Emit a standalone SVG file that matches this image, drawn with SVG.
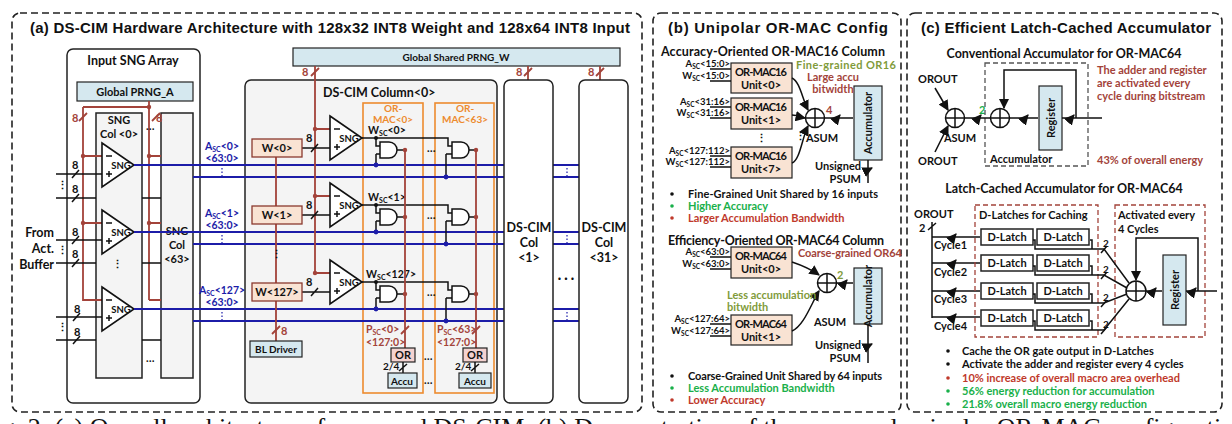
<svg xmlns="http://www.w3.org/2000/svg" width="1232" height="424" viewBox="0 0 1232 424">
<style>
text{font-family:Lato,"Open Sans",sans-serif;font-weight:700;font-size:11px;fill:#111}
.t{font-family:"Liberation Sans",Arial,sans-serif;font-size:15px}
.h{font-size:12.5px}
.c{text-anchor:middle}
.r{text-anchor:end}
.s{font-size:9.5px}
.pan{fill:#fff;stroke:#222;stroke-width:1.6;stroke-dasharray:7 4}
.box{fill:#f4f4f4;stroke:#222;stroke-width:1.5}
.wb{fill:#fff;stroke:#222;stroke-width:1.5}
.blu{fill:#d5e8ef;stroke:#222;stroke-width:1.2}
.pch{fill:#f9e3d3;stroke:#8b3a2f;stroke-width:1.3}
.pb{fill:#f9e3d3;stroke:#222;stroke-width:1.2}
.k{stroke:#111;stroke-width:1.5;fill:none}
.rd{stroke:#a3433a;stroke-width:1.8;fill:none}
.bl{stroke:#1c1ca8;stroke-width:2.2;fill:none}
.or{fill:none;stroke:#ed8b2f;stroke-width:1.6}
.g{fill:#fff;stroke:#111;stroke-width:1.5}
.tri{fill:#fff;stroke:#111;stroke-width:1.6}
.red{fill:#c0392b}.brn{fill:#a3433a}.grn{fill:#19b04a}.olv{fill:#7f9b3a}.blt{fill:#1c1ca8}.org{fill:#ed8b2f}
.dd{stroke:#1c1ca8;stroke-width:1.2;stroke-dasharray:1.5 2}
.rdash{fill:none;stroke:#a3433a;stroke-width:1.3;stroke-dasharray:5 3}
.gdash{fill:none;stroke:#555;stroke-width:1.3;stroke-dasharray:5 3}
</style>
<defs>
<marker id="ar" viewBox="0 0 10 10" refX="9" refY="5" markerWidth="7" markerHeight="7" orient="auto"><path d="M0 0L10 5L0 10z" fill="#111"/></marker>
<g id="sngA"><path class="tri" d="M0 0L32 22L0 44z"/><path class="k" d="M4 13h6M4 31h6M7 28v6"/><text x="19" y="26" class="c" style="font-size:9.5px">SNG</text></g>
<g id="and"><path class="g" d="M0 0h9a8 8 0 0 1 0 16h-9z"/></g>
<g id="dl"><rect width="52" height="16" class="wb" stroke-width="1.2"/><text x="26" y="12" class="c">D-Latch</text></g>
</defs>
<rect width="1232" height="424" fill="#fff"/>
<text x="-20" y="436" style="font-family:'Liberation Serif',serif;font-weight:400;font-size:26px">Fig. 2: (a) Overall architecture of proposed DS-CIM. (b) Demonstration of the proposed unipolar OR-MAC configurations with the accuracy</text>

<!-- Panel a -->
<g id="panelA">
<rect x="12" y="13" width="630" height="399" rx="8" class="pan"/>
<text x="30" y="33" class="t" textLength="600">(a) DS-CIM Hardware Architecture with 128x32 INT8 Weight and 128x64 INT8 Input</text>
</g>
<g id="inputSNG">
<rect x="67" y="49" width="133" height="354" rx="6" class="wb"/>
<text x="133" y="65" class="c h">Input SNG Array</text>
<rect x="77" y="82" width="116" height="19" class="blu"/>
<text x="135" y="96" class="c">Global PRNG_A</text>
<rect x="96" y="113" width="46" height="265" class="box"/>
<text x="119" y="124" class="c">SNG</text><text x="119" y="138" class="c">Col &lt;0&gt;</text>
<rect x="161" y="113" width="32" height="265" class="box"/>
<text x="177" y="235" class="c">SNG</text><text x="177" y="249" class="c">Col</text><text x="177" y="263" class="c">&lt;63&gt;</text>
<path class="rd" d="M149 101V300M83 107H149V300M83 107V300H108M83 156H108M83 223H108M149 156H161M149 223H161M149 300H161"/>
<path class="rd" d="M79 121l8-8M152 121l8-8"/>
<text x="72" y="122" class="brn">8</text><text x="156" y="122" class="brn">8</text>
<circle cx="149" cy="107" r="2.2" fill="#a3433a"/><circle cx="83" cy="156" r="2.2" fill="#a3433a"/><circle cx="83" cy="223" r="2.2" fill="#a3433a"/><circle cx="149" cy="156" r="2.2" fill="#a3433a"/><circle cx="149" cy="223" r="2.2" fill="#a3433a"/>
<text x="146" y="130">…</text><text x="146" y="362">…</text>
<use href="#sngA" x="102" y="143"/><use href="#sngA" x="102" y="210"/><use href="#sngA" x="102" y="287"/>
<text x="117" y="268" class="c">⋮</text>
<path class="k" d="M142 198H161M142 263H161M142 340H161M142 165H161M142 232H161M142 309H161"/>
<path class="k" d="M56 174H102M56 198H96M56 240H102M56 263H96M56 317H102M56 340H96"/>
<path class="k" d="M72 178l7-8M72 202l7-8M72 244l7-8M72 267l7-8M73 321l7-8M73 344l7-8"/>
<text x="72" y="169">8</text><text x="72" y="193">8</text><text x="72" y="236">8</text><text x="72" y="258">8</text><text x="74" y="313">8</text><text x="74" y="336">8</text>
<text x="62" y="189" class="c">⋮</text><text x="62" y="254" class="c">⋮</text><text x="62" y="331" class="c">⋮</text>
<text x="54" y="237" class="r h">From</text><text x="54" y="253" class="r h">Act.</text><text x="54" y="269" class="r h">Buffer</text>
</g>
<g id="col0">
<rect x="245" y="80" width="252" height="323" rx="6" class="box"/>
<text x="323" y="97" class="h">DS-CIM Column&lt;0&gt;</text>
<rect x="363" y="103" width="60" height="290" class="or"/>
<rect x="435" y="103" width="59" height="290" class="or"/>
<text x="393" y="112" class="c org" style="font-size:10px">OR-</text><text x="393" y="123" class="c org" style="font-size:10px">MAC&lt;0&gt;</text>
<text x="465" y="112" class="c org" style="font-size:10px">OR-</text><text x="465" y="123" class="c org" style="font-size:10px">MAC&lt;63&gt;</text>
</g>
<g id="prngW"><rect x="293" y="48" width="327" height="18" class="blu"/><text x="456" y="61" class="c" style="font-size:10px">Global Shared PRNG_W</text></g>
<g id="connectors">
<path class="bl" d="M134 165H579M193 177H579M134 232H579M193 244H579M134 309H579M193 321H579"/>
<path class="dd" d="M222 168V176M222 235V243M222 312V320"/>
<text x="222" y="150" class="c blt" style="font-size:10.5px">A<tspan font-size="7" dy="2">SC</tspan><tspan dy="-2">&lt;0&gt;</tspan></text><text x="222" y="162" class="c blt" style="font-size:10.5px">&lt;63:0&gt;</text>
<text x="222" y="217" class="c blt" style="font-size:10.5px">A<tspan font-size="7" dy="2">SC</tspan><tspan dy="-2">&lt;1&gt;</tspan></text><text x="222" y="229" class="c blt" style="font-size:10.5px">&lt;63:0&gt;</text>
<text x="222" y="294" class="c blt" style="font-size:10.5px">A<tspan font-size="7" dy="2">SC</tspan><tspan dy="-2">&lt;127&gt;</tspan></text><text x="222" y="306" class="c blt" style="font-size:10.5px">&lt;63:0&gt;</text>
<path class="rd" d="M315 66V273M315 129H330M315 196H330M315 273H330M276 157V341M528 66V80M600 66V80"/>
<path class="rd" d="M311 76l8-8M272 334l8-8M524 76l8-8M596 76l8-8"/>
<text x="302" y="76" class="brn">8</text><text x="281" y="335" class="brn">8</text><text x="516" y="76" class="brn">8</text><text x="588" y="76" class="brn">8</text>
<circle cx="315" cy="129" r="2.2" fill="#a3433a"/><circle cx="315" cy="196" r="2.2" fill="#a3433a"/><circle cx="315" cy="273" r="2.2" fill="#a3433a"/>
<path class="k" d="M302 148H330M302 215H330M302 292H330M311 152l7-8M311 219l7-8M311 296l7-8"/>
<text x="306" y="142">8</text><text x="306" y="209">8</text><text x="306" y="286">8</text>
<text x="276" y="258" class="c">⋮</text>
</g>
<g id="wboxes">
<rect x="252" y="139" width="50" height="18" class="pch"/><text x="277" y="152" class="c">W&lt;0&gt;</text>
<rect x="252" y="206" width="50" height="18" class="pch"/><text x="277" y="219" class="c">W&lt;1&gt;</text>
<rect x="252" y="283" width="50" height="18" class="pch"/><text x="277" y="296" class="c">W&lt;127&gt;</text>
<rect x="250" y="341" width="52" height="16" class="blu"/><text x="276" y="353" class="c" style="font-size:10px">BL Driver</text>
</g>
<g id="macrows">
<g>
<use href="#sngA" x="330" y="116"/>
<text x="368" y="134" style="font-size:10.5px">W<tspan font-size="7" dy="2">SC</tspan><tspan dy="-2">&lt;0&gt;</tspan></text>
<path class="k" d="M362 138H448V146H452M376 138V146H380M376 154H380M376 154V165M446 154H452M446 154V177"/>
<circle cx="376" cy="138" r="2" fill="#111"/><circle cx="376" cy="165" r="2.4" fill="#1c1ca8"/><circle cx="446" cy="177" r="2.4" fill="#1c1ca8"/>
<use href="#and" x="380" y="142"/><use href="#and" x="452" y="142"/>
<path class="k" d="M397 150H405M469 150H476"/><text x="427" y="152">…</text>
</g>
<g>
<use href="#sngA" x="330" y="183"/>
<text x="368" y="201" style="font-size:10.5px">W<tspan font-size="7" dy="2">SC</tspan><tspan dy="-2">&lt;1&gt;</tspan></text>
<path class="k" d="M362 205H448V213H452M376 205V213H380M376 221H380M376 221V232M446 221H452M446 221V244"/>
<circle cx="376" cy="205" r="2" fill="#111"/><circle cx="376" cy="232" r="2.4" fill="#1c1ca8"/><circle cx="446" cy="244" r="2.4" fill="#1c1ca8"/>
<use href="#and" x="380" y="209"/><use href="#and" x="452" y="209"/>
<path class="k" d="M397 217H405M469 217H476"/><text x="427" y="219">…</text>
</g>
<g>
<use href="#sngA" x="330" y="260"/>
<text x="366" y="278" style="font-size:10.5px">W<tspan font-size="7" dy="2">SC</tspan><tspan dy="-2">&lt;127&gt;</tspan></text>
<path class="k" d="M362 282H448V290H452M376 282V290H380M376 298H380M376 298V309M446 298H452M446 298V321"/>
<circle cx="376" cy="282" r="2" fill="#111"/><circle cx="376" cy="309" r="2.4" fill="#1c1ca8"/><circle cx="446" cy="321" r="2.4" fill="#1c1ca8"/>
<use href="#and" x="380" y="286"/><use href="#and" x="452" y="286"/>
<path class="k" d="M397 294H405M469 294H476"/><text x="427" y="296">…</text>
</g>
<path class="rd" d="M405 150V348M476 150V348M401 334l8-8M472 334l8-8"/>
<circle cx="405" cy="150" r="2.2" fill="#a3433a"/><circle cx="405" cy="217" r="2.2" fill="#a3433a"/><circle cx="405" cy="294" r="2.2" fill="#a3433a"/>
<circle cx="476" cy="150" r="2.2" fill="#a3433a"/><circle cx="476" cy="217" r="2.2" fill="#a3433a"/><circle cx="476" cy="294" r="2.2" fill="#a3433a"/>
<text x="366" y="333" class="brn" style="font-size:10.5px">P<tspan font-size="7" dy="2">SC</tspan><tspan dy="-2">&lt;0&gt;</tspan></text><text x="366" y="346" class="brn" style="font-size:10.5px">&lt;127:0&gt;</text>
<text x="437" y="333" class="brn" style="font-size:10.5px">P<tspan font-size="7" dy="2">SC</tspan><tspan dy="-2">&lt;63&gt;</tspan></text><text x="437" y="346" class="brn" style="font-size:10.5px">&lt;127:0&gt;</text>
<rect x="391" y="348" width="24" height="14" fill="#f3d2d0" stroke="#222" stroke-width="1.2"/><text x="403" y="359" class="c">OR</text>
<rect x="463" y="348" width="24" height="14" fill="#f3d2d0" stroke="#222" stroke-width="1.2"/><text x="475" y="359" class="c">OR</text>
<path class="k" d="M403 362V373M475 362V373M399 371l8-7M471 371l8-7"/>
<text x="383" y="370" style="font-size:10px">2/4</text><text x="455" y="370" style="font-size:10px">2/4</text>
<rect x="388" y="373" width="29" height="15" class="blu"/><text x="402" y="385" class="c" style="font-size:10px">Accu</text>
<rect x="459" y="373" width="32" height="15" class="blu"/><text x="475" y="385" class="c" style="font-size:10px">Accu</text>
<text x="424" y="360">…</text><text x="424" y="384">…</text>
</g>
<g id="col1"><rect x="504" y="80" width="49" height="323" rx="6" class="wb"/><text x="529" y="232" class="c h">DS-CIM</text><text x="529" y="247" class="c h">Col</text><text x="529" y="262" class="c h">&lt;1&gt;</text></g>
<g id="col31"><rect x="579" y="80" width="49" height="323" rx="6" class="wb"/><text x="604" y="232" class="c h">DS-CIM</text><text x="604" y="247" class="c h">Col</text><text x="604" y="262" class="c h">&lt;31&gt;</text></g>
<path class="dd" d="M567 168V176M567 235V243M567 312V320"/><text x="566" y="283" class="c h">· · ·</text>

<!-- Panel b -->
<g id="panelB">
<rect x="653" y="13" width="248" height="399" rx="8" class="pan"/>
<text x="778" y="33" class="c t" textLength="220">(b) Unipolar OR-MAC Config</text>
<text x="773" y="56" class="c h" textLength="224">Accuracy-Oriented OR-MAC16 Column</text>
<g id="u16">
<rect x="731" y="63" width="61" height="30" class="pb"/><text x="761" y="76" class="c" textLength="52">OR-MAC16</text><text x="761" y="89" class="c">Unit&lt;0&gt;</text>
<rect x="731" y="98" width="61" height="31" class="pb"/><text x="761" y="111" class="c" textLength="52">OR-MAC16</text><text x="761" y="124" class="c">Unit&lt;1&gt;</text>
<rect x="731" y="147" width="61" height="31" class="pb"/><text x="761" y="160" class="c" textLength="52">OR-MAC16</text><text x="761" y="173" class="c">Unit&lt;7&gt;</text>
<text x="761" y="142" class="c">⋮</text>
<path class="k" d="M710 69H731M710 81H731M710 107H731M710 118H731M710 156H731M710 167H731"/>
<text x="730" y="67" class="r s">A<tspan font-size="6.5" dy="2">SC</tspan><tspan dy="-2">&lt;15:0&gt;</tspan></text><text x="730" y="79" class="r s">W<tspan font-size="6.5" dy="2">SC</tspan><tspan dy="-2">&lt;15:0&gt;</tspan></text>
<text x="730" y="105" class="r s">A<tspan font-size="6.5" dy="2">SC</tspan><tspan dy="-2">&lt;31:16&gt;</tspan></text><text x="730" y="116" class="r s">W<tspan font-size="6.5" dy="2">SC</tspan><tspan dy="-2">&lt;31:16&gt;</tspan></text>
<text x="730" y="154" class="r s">A<tspan font-size="6.5" dy="2">SC</tspan><tspan dy="-2">&lt;127:112&gt;</tspan></text><text x="730" y="165" class="r s">W<tspan font-size="6.5" dy="2">SC</tspan><tspan dy="-2">&lt;127:112&gt;</tspan></text>
<path class="k" marker-end="url(#ar)" d="M792 78C800 82 802 98 808 110"/>
<path class="k" marker-end="url(#ar)" d="M792 115C798 115 800 117 805 118"/>
<path class="k" marker-end="url(#ar)" d="M792 163C800 160 802 138 808 126"/>
<text x="800" y="140" class="c">⋮</text>
<circle cx="815" cy="118" r="9.5" class="g"/><path class="k" d="M805.5 118H824.5M815 108.5V127.5"/>
<path class="k" marker-end="url(#ar)" d="M824 118H853M834 122l6-7"/>
<text x="826" y="114" class="brn">4</text><text x="822" y="142" class="c">ASUM</text>
<rect x="854" y="86" width="28" height="74" class="blu"/><text transform="translate(872 123) rotate(-90)" class="c">Accumulator</text>
<path class="k" marker-end="url(#ar)" d="M868 160V183M864 172l8-4"/>
<text x="861" y="170" class="r">Unsigned</text><text x="861" y="183" class="r">PSUM</text>
<text x="796" y="69" class="olv" textLength="100">Fine-grained OR16</text>
<text x="833" y="81" class="c brn">Large accu</text><text x="833" y="93" class="c brn">bitwidth</text>
</g>
<circle cx="672" cy="194" r="1.8" fill="#111"/><text x="688" y="198" textLength="190">Fine-Grained Unit Shared by 16 inputs</text>
<circle cx="672" cy="206" r="1.8" fill="#19b04a"/><text x="688" y="210" class="grn">Higher Accuracy</text>
<circle cx="672" cy="218" r="1.8" fill="#c0392b"/><text x="688" y="222" class="red">Larger Accumulation Bandwidth</text>
<text x="776" y="245" class="c h" textLength="216">Efficiency-Oriented OR-MAC64 Column</text>
<g id="u64">
<rect x="731" y="247" width="61" height="31" class="pb"/><text x="761" y="260" class="c" textLength="52">OR-MAC64</text><text x="761" y="273" class="c">Unit&lt;0&gt;</text>
<rect x="731" y="315" width="61" height="30" class="pb"/><text x="761" y="328" class="c" textLength="52">OR-MAC64</text><text x="761" y="341" class="c">Unit&lt;1&gt;</text>
<path class="k" d="M710 257H731M710 269H731M710 324H731M710 336H731"/>
<text x="730" y="255" class="r s">A<tspan font-size="6.5" dy="2">SC</tspan><tspan dy="-2">&lt;63:0&gt;</tspan></text><text x="730" y="267" class="r s">W<tspan font-size="6.5" dy="2">SC</tspan><tspan dy="-2">&lt;63:0&gt;</tspan></text>
<text x="730" y="322" class="r s">A<tspan font-size="6.5" dy="2">SC</tspan><tspan dy="-2">&lt;127:64&gt;</tspan></text><text x="730" y="334" class="r s">W<tspan font-size="6.5" dy="2">SC</tspan><tspan dy="-2">&lt;127:64&gt;</tspan></text>
<path class="k" marker-end="url(#ar)" d="M792 262C804 266 812 270 819 275"/>
<path class="k" marker-end="url(#ar)" d="M792 331C804 326 812 302 819 291"/>
<circle cx="827" cy="283" r="9.5" class="g"/><path class="k" d="M817.5 283H836.5M827 273.5V292.5"/>
<path class="k" marker-end="url(#ar)" d="M836 283H853M841 287l6-7"/>
<text x="837" y="279" class="olv">2</text><text x="830" y="326" class="c">ASUM</text>
<rect x="854" y="268" width="28" height="56" class="blu"/><text transform="translate(872 296) rotate(-90)" class="c">Accumulator</text>
<path class="k" marker-end="url(#ar)" d="M868 324V363M864 348l8-4"/>
<text x="861" y="349" class="r">Unsigned</text><text x="861" y="362" class="r">PSUM</text>
<text x="798" y="257" class="brn" textLength="104">Coarse-grained OR64</text>
<text x="727" y="299" class="olv">Less accumulation</text><text x="727" y="311" class="olv">bitwidth</text>
</g>
<circle cx="672" cy="376" r="1.8" fill="#111"/><text x="688" y="380" textLength="194">Coarse-Grained Unit Shared by 64 inputs</text>
<circle cx="672" cy="388" r="1.8" fill="#19b04a"/><text x="688" y="392" class="grn">Less Accumulation Bandwidth</text>
<circle cx="672" cy="400" r="1.8" fill="#c0392b"/><text x="688" y="404" class="red">Lower Accuracy</text>
</g>

<!-- Panel c -->
<g id="panelC">
<rect x="907" y="13" width="315" height="399" rx="8" class="pan"/>
<text x="1066" y="33" class="c t" textLength="290">(c) Efficient Latch-Cached Accumulator</text>
<text x="1064" y="58" class="c h">Conventional Accumulator for OR-MAC64</text>
<g id="conv">
<text x="918" y="83">OROUT</text><text x="918" y="165">OROUT</text>
<path class="k" marker-end="url(#ar)" d="M935 88L948 110"/><path class="k" marker-end="url(#ar)" d="M935 152L948 126"/>
<circle cx="955" cy="118" r="9.5" class="g"/><path class="k" d="M945.5 118H964.5M955 108.5V127.5"/>
<text x="960" y="142" class="c">ASUM</text><text x="979" y="114" class="grn">2</text>
<rect x="985" y="63" width="103" height="103" class="gdash"/>
<path class="k" marker-end="url(#ar)" d="M964 118H990M975 122l6-7"/>
<circle cx="1000" cy="118" r="9.5" class="g"/><path class="k" d="M990.5 118H1009.5M1000 108.5V127.5"/>
<path class="k" marker-end="url(#ar)" d="M1010 118H1038M1022 122l6-7"/>
<rect x="1039" y="86" width="23" height="64" class="blu"/><text transform="translate(1055 118) rotate(-90)" class="c">Register</text>
<path class="k" marker-end="url(#ar)" d="M1062 118H1102M1068 122l6-7"/>
<path class="k" marker-end="url(#ar)" d="M1076 118V70H1004V108"/>
<text x="990" y="163">Accumulator</text>
<text x="1097" y="74" class="brn">The adder and register</text><text x="1097" y="87" class="brn">are activated every</text><text x="1097" y="100" class="brn">cycle during bitstream</text>
<text x="1097" y="164" class="brn">43% of overall energy</text>
</g>
<text x="1064" y="193" class="c h">Latch-Cached Accumulator for OR-MAC64</text>
<g id="latch">
<text x="914" y="218">OROUT</text><text x="919" y="232">2</text>
<path class="k" d="M932 222V318M928 230l8-7"/>
<path class="k" marker-end="url(#ar)" d="M932 237H980M950 241l6-7"/><path class="k" marker-end="url(#ar)" d="M932 263H980M950 267l6-7"/>
<path class="k" marker-end="url(#ar)" d="M932 291H980M950 295l6-7"/><path class="k" marker-end="url(#ar)" d="M932 317H980M950 321l6-7"/>
<text x="934" y="249">Cycle1</text><text x="934" y="276">Cycle2</text><text x="934" y="303">Cycle3</text><text x="934" y="330">Cycle4</text>
<rect x="975" y="205" width="123" height="132" class="rdash"/><rect x="1115" y="205" width="90" height="132" class="rdash"/>
<text x="979" y="219">D-Latches for Caching</text><text x="1118" y="219">Activated every</text><text x="1118" y="233">4 Cycles</text>
<use href="#dl" x="981" y="229"/><use href="#dl" x="1037" y="229"/>
<use href="#dl" x="981" y="255"/><use href="#dl" x="1037" y="255"/>
<use href="#dl" x="981" y="283"/><use href="#dl" x="1037" y="283"/>
<use href="#dl" x="981" y="310"/><use href="#dl" x="1037" y="310"/>
<path class="k" d="M1033 240H1035V249H1104L1129 283M1090 240H1092V249M1033 266H1035V275H1104L1127 288M1090 266H1092V275M1033 294H1035V303H1104L1127 294M1090 294H1092V303M1033 321H1035V330H1104L1129 299M1090 321H1092V330"/>
<path class="k" d="M1101 253l6-7M1101 279l6-7M1101 307l6-7M1101 334l6-7"/>
<text x="1103" y="247" style="font-size:10px">2</text><text x="1103" y="273" style="font-size:10px">2</text><text x="1103" y="301" style="font-size:10px">2</text><text x="1103" y="328" style="font-size:10px">2</text>
<circle cx="1136" cy="291" r="10" class="g"/><path class="k" d="M1126 291H1146M1136 281V301"/>
<path class="k" marker-end="url(#ar)" d="M1146 291H1162M1150 295l6-7"/>
<rect x="1163" y="255" width="23" height="70" class="blu"/><text transform="translate(1179 290) rotate(-90)" class="c">Register</text>
<path class="k" marker-end="url(#ar)" d="M1186 291H1217M1190 295l6-7"/>
<path class="k" marker-end="url(#ar)" d="M1198 291V238H1136V280"/>
</g>
<circle cx="948" cy="351" r="1.8" fill="#111"/><text x="962" y="355">Cache the OR gate output in D-Latches</text>
<circle cx="948" cy="364" r="1.8" fill="#111"/><text x="962" y="368">Activate the adder and register every 4 cycles</text>
<circle cx="948" cy="378" r="1.8" fill="#c0392b"/><text x="962" y="382" class="red">10% increase of overall macro area overhead</text>
<circle cx="948" cy="391" r="1.8" fill="#19b04a"/><text x="962" y="395" class="grn">56% energy reduction for accumulation</text>
<circle cx="948" cy="404" r="1.8" fill="#19b04a"/><text x="962" y="408" class="grn">21.8% overall macro energy reduction</text>
</g>
</svg>
